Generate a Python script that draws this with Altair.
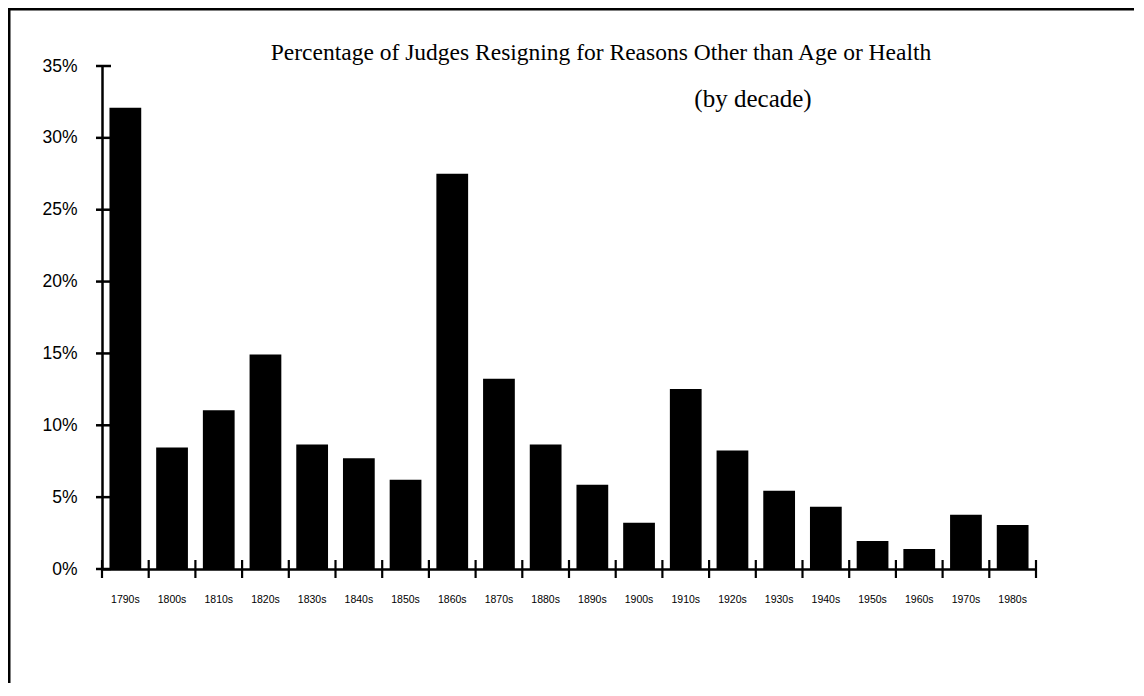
import altair as alt
import pandas as pd

DECADES = ["1790s", "1800s", "1810s", "1820s", "1830s", "1840s", "1850s", "1860s",
           "1870s", "1880s", "1890s", "1900s", "1910s", "1920s", "1930s", "1940s",
           "1950s", "1960s", "1970s", "1980s"]
PCT = [32.1, 8.45, 11.05, 14.92, 8.66, 7.7, 6.21, 27.5,
       13.23, 8.66, 5.86, 3.21, 12.53, 8.24, 5.44, 4.33,
       1.95, 1.4, 3.77, 3.07]
Y_TICKS = [0, 5, 10, 15, 20, 25, 30, 35]
TITLE = ["Percentage of Judges Resigning for Reasons Other than Age or Health"]
SUBTITLE = ["(by decade)"]

W, H = 934, 503

df = pd.DataFrame({"decade": DECADES, "pct": PCT})
ticks_df = pd.DataFrame({"pct": Y_TICKS})

x_scale = alt.Scale(domain=DECADES, paddingInner=0, paddingOuter=0)
y_scale = alt.Scale(domain=[0, 35], nice=False, zero=True)

x_axis = alt.Axis(title=None, labelAngle=0, ticks=False, tickSize=0, domain=True,
                  domainColor="black", domainWidth=2.5,
                  labelFont="Liberation Sans", labelFontSize=10.5, labelColor="black",
                  labelPadding=25, grid=False)
y_axis = alt.Axis(title=None, values=Y_TICKS, labelExpr="datum.value + '%'",
                  ticks=False, tickSize=0, domain=True, domainColor="black",
                  domainWidth=2.5, labelFont="Liberation Sans", labelFontSize=17.5,
                  labelColor="black", labelPadding=25, grid=False)

X = alt.X("decade:N", scale=x_scale, sort=DECADES, axis=x_axis)
Y = alt.Y("pct:Q", scale=y_scale, axis=y_axis)

bars = alt.Chart(df).mark_bar(color="black", width=alt.RelativeBandSize(0.68)).encode(
    x=X, y=Y
)

y_ticks = alt.Chart(ticks_df).mark_rule(color="black", strokeWidth=2.5).encode(
    y=Y, x=alt.value(-6), x2=alt.value(9)
)

x_ticks = alt.Chart(df).mark_rule(color="black", strokeWidth=2.2).encode(
    x=alt.X("decade:N", scale=x_scale, sort=DECADES, axis=x_axis, bandPosition=0),
    y=alt.value(H - 9), y2=alt.value(H + 9)
)

x_tick_end = alt.Chart(df).transform_filter(
    alt.datum.decade == DECADES[-1]
).mark_rule(color="black", strokeWidth=2.2).encode(
    x=alt.X("decade:N", scale=x_scale, sort=DECADES, axis=x_axis, bandPosition=1),
    y=alt.value(H - 9), y2=alt.value(H + 9)
)

title = alt.Chart(pd.DataFrame({"t": TITLE})).mark_text(
    font="Liberation Serif", fontSize=23.5, align="center", baseline="middle", color="black"
).encode(text="t:N", x=alt.value(499), y=alt.value(-13))

subtitle = alt.Chart(pd.DataFrame({"t": SUBTITLE})).mark_text(
    font="Liberation Serif", fontSize=25, align="center", baseline="middle", color="black"
).encode(text="t:N", x=alt.value(651), y=alt.value(33))

frame_left = alt.Chart(pd.DataFrame({"t": [0]})).mark_rule(color="black", strokeWidth=2.5).encode(
    x=alt.value(-92.75), y=alt.value(-58), y2=alt.value(H + 120)
)
frame_top = alt.Chart(pd.DataFrame({"t": [0]})).mark_rule(color="black", strokeWidth=2.5).encode(
    y=alt.value(-56.75), x=alt.value(-94), x2=alt.value(W + 100)
)

chart = alt.layer(
    bars, y_ticks, x_ticks, x_tick_end, title, subtitle, frame_left, frame_top
).properties(
    width=W, height=H,
    background="white",
    padding={"left": 94, "top": 58, "right": 98, "bottom": 114},
    autosize=alt.AutoSizeParams(type="none"),
).configure_view(strokeWidth=0, stroke="transparent")

chart.save("out.html", embed_options={"renderer": "svg", "actions": False})
